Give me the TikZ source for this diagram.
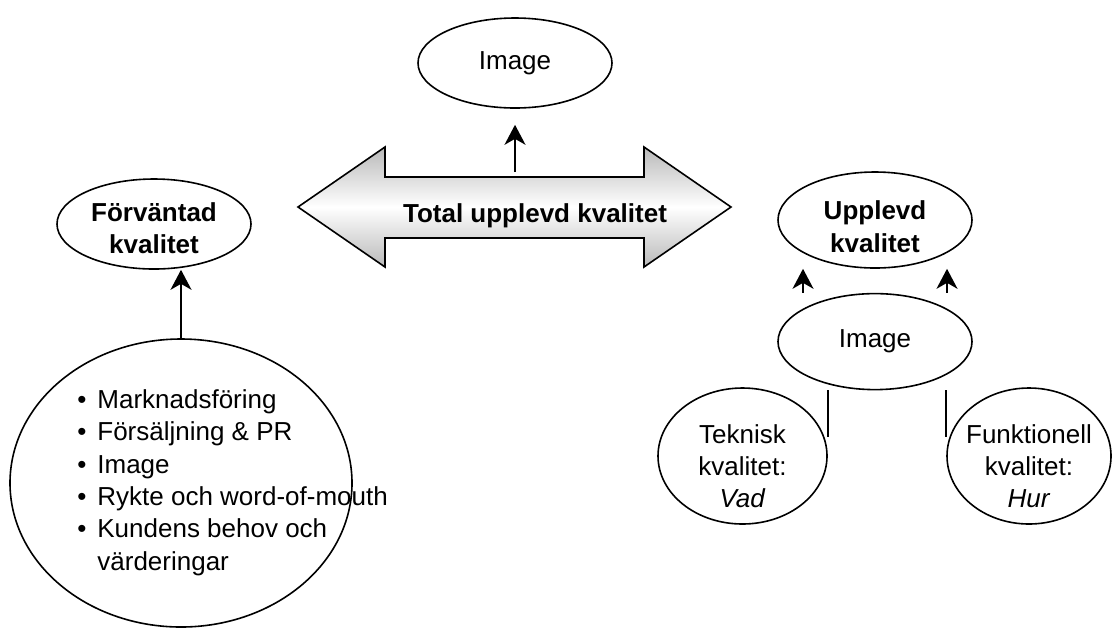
\documentclass[tikz,border=0pt]{standalone}
\usepackage{fontspec}
\setmainfont{Liberation Sans}
\usetikzlibrary{shapes.geometric, arrows.meta, positioning}
\newcommand{\punkt}{\makebox[10pt][l]{\textbullet}}
\tikzset{
x=0.5pt, y=-0.5pt, % one unit is one pixel of the sketch, y runs downwards
every node/.style={font=\fontsize{13pt}{16.2pt}\selectfont, align=center, inner sep=0pt},
fet/.style={font=\fontsize{13pt}{16.2pt}\selectfont\bfseries}, % bold labels
oval/.style={ellipse, draw, line width=0.8pt, inner sep=-8pt}, % every ellipse
pil/.style={-{Stealth[length=10pt, width=10.5pt, inset=3pt]}, line width=1.1pt}, % the arrows
linje/.style={line width=0.8pt}, % plain connecting lines
}

\begin{document}
\begin{tikzpicture}
\useasboundingbox (0,0) rectangle (1112,628);

% big double arrow in the middle
\path[draw, line width=0.8pt, top color=gray!55, bottom color=gray!55, middle color=white]
	(298,207) -- (385,147) -- (385,177) -- (644,177) -- (644,147) -- (731,207)
	-- (644,267) -- (644,238) -- (385,238) -- (385,267) -- cycle;
\coordinate (skaft) at (515,177);
\node[fet] (total) at (535,215.5) {Total upplevd kvalitet};

\node[oval, minimum width=97pt, minimum height=45pt] (image1) at (515,63) {Image};

\node[oval, fet, text height=30pt, minimum width=97pt, minimum height=45pt] (forvantad) at (154,224) {Förväntad\\kvalitet};
\node[oval, minimum width=171pt, minimum height=144pt] (faktorer) at (181,483) {};
\node[anchor=north west, align=left] (lista) at (77,389) {\punkt Marknadsföring\\
	\punkt Försäljning \& PR\\
	\punkt Image\\
	\punkt Rykte och word-of-mouth\\
	\punkt Kundens behov och\\
	\hspace{10pt}värderingar};

\node[oval, fet, text height=32.5pt, minimum width=97pt, minimum height=48pt] (upplevd) at (875,220) {Upplevd\\kvalitet};
\node[oval, minimum width=97pt, minimum height=48pt, below=12pt of upplevd] (image2) {Image};
\node[oval, text height=52pt, minimum width=84.5pt, minimum height=68pt] (teknisk) at (742.5,456) {Teknisk\\kvalitet:\\\textit{Vad}};
\node[oval, text height=52pt, minimum width=82pt, minimum height=68pt] (funktionell) at (1029,456) {Funktionell\\kvalitet:\\\textit{Hur}};

\draw 	(faktorer.north) edge[pil] (faktorer.north |- forvantad.south)
		([yshift=2.5pt]skaft) edge[pil] ([yshift=-8pt]image1.south);

\draw 	([xshift=-36pt]image2.north) edge[pil] ([xshift=-36pt]upplevd.south)
		([xshift=36pt]image2.north) edge[pil] ([xshift=36pt]upplevd.south);

\draw[linje] (teknisk.east |- image2.south) -- ([yshift=9.5pt]teknisk.east)
		(funktionell.west |- image2.south) -- ([yshift=9.5pt]funktionell.west);
\end{tikzpicture}
\end{document}
